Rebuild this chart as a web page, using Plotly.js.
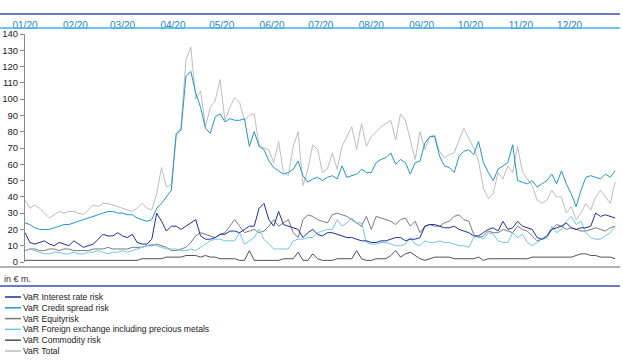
<!DOCTYPE html>
<html><head><meta charset="utf-8">
<script src="https://cdn.plot.ly/plotly-3.0.1.min.js"></script>
<style>html,body{margin:0;padding:0;background:#fff}#chart{width:623px;height:361px}</style>
</head><body><div id="chart"></div>
<script>
// sampling grid: every 3rd calendar day of 2020
const startDate = [2020, 0, 1];
const stepDays = 3;
const seriesNames = ["VaR Interest rate risk","VaR Credit spread risk","VaR Equity risk","VaR Foreign exchange including precious metals","VaR Commodity risk","VaR Total"];
const legendLabels = ["VaR Interest rate risk","VaR Credit spread risk","VaR Equityrisk","VaR Foreign exchange including precious metals","VaR Commodity risk","VaR Total"];
const yTicks = [0,10,20,30,40,50,60,70,80,90,100,110,120,130,140];

const varInterest = [18,12,11,12,13,11,10,12,11,10, 13,11,9,10,11,14,17,16,16,18, 16,15,17,12,11,11,14,30,25,19, 22,22,20,22,24,26,16,14,14,15, 17,17,19,19,18,20,22,22,33,36, 26,22,31,23,22,21,20,15,18,20, 17,16,18,18,17,16,15,15,14,13, 13,12,12,13,13,14,15,15,13,14, 14,15,22,23,23,22,21,21,22,20, 19,18,16,16,18,20,21,19,25,20, 21,25,22,21,20,15,14,16,20,21, 22,24,21,20,21,21,22,30,28,29, 28,27];
const varCredit = [24,23,21,20,20,20,21,22,23,23, 24,25,26,27,28,29,30,31,31,30, 30,29,29,27,26,25,26,33,36,40, 44,79,81,114,117,104,95,82,79,89, 91,86,88,87,87,88,71,80,71,69, 62,58,56,54,55,57,62,53,49,51, 52,50,52,53,51,59,52,53,54,57, 55,55,61,63,64,67,60,63,61,54, 61,62,73,77,77,65,59,58,55,65, 68,69,66,74,61,55,50,57,59,61, 72,50,49,48,50,46,48,50,54,48, 56,48,42,34,44,52,53,52,51,54, 52,56];
const varEquity = [7,8,8,7,7,8,8,7,8,8, 7,7,7,7,8,8,8,9,8,8, 8,8,9,9,9,10,10,11,10,9, 7,7,8,9,12,16,18,17,16,15, 17,18,22,26,22,18,19,20,18,19, 22,26,22,24,26,18,15,26,29,28, 26,25,24,29,30,29,28,26,24,22, 28,20,28,27,26,25,23,26,27,22, 25,18,22,23,22,22,24,25,28,29, 26,25,17,15,16,19,18,18,20,19, 18,22,20,19,16,13,14,15,20,23, 22,20,21,20,19,19,20,21,20,19, 21,22];
const varFx = [7,8,7,6,5,5,6,6,5,5, 6,5,5,6,6,7,6,5,6,6, 7,6,7,8,9,10,11,10,9,8, 8,8,7,7,8,7,9,11,13,14, 14,13,13,13,18,11,13,15,20,14, 11,8,8,8,8,13,14,14,15,15, 18,19,20,20,26,22,24,27,24,24, 12,11,11,12,12,11,10,10,11,15, 11,10,13,12,12,13,12,12,11,10, 10,9,15,16,14,18,17,13,12,12, 18,15,17,12,10,12,14,15,22,18, 20,25,28,23,25,18,15,14,14,16, 18,22];
const varCommodity = [1,1,1,1,1,1,1,1,1,1, 1,1,1,1,1,1,1,1,1,1, 1,1,1,1,2,2,2,2,2,3, 3,3,3,4,4,4,3,4,3,3, 2,2,2,2,1,1,7,1,1,1, 1,1,1,2,2,2,6,1,1,5, 2,1,1,1,2,2,2,2,7,2, 1,1,2,2,2,4,7,3,5,6, 4,2,1,2,3,3,3,3,2,2, 2,2,2,3,1,2,2,2,2,2, 2,2,2,2,3,3,3,3,3,3, 3,3,3,4,5,5,4,4,3,3, 3,2];
const varTotal = [38,33,35,33,30,27,29,31,30,31, 31,30,29,32,35,34,36,36,35,34, 33,32,31,33,36,33,32,42,58,46, 48,77,83,124,132,100,105,83,95,99, 112,87,95,101,98,87,90,91,71,70, 69,61,74,55,53,71,80,47,57,72, 69,55,57,67,57,71,77,83,69,85, 71,77,80,83,85,87,75,91,87,75, 63,80,69,77,78,68,64,66,67,75, 82,76,70,62,45,39,42,55,51,59, 55,71,55,51,47,38,36,38,44,40, 40,30,34,26,30,36,32,40,44,40, 36,49];

const seriesValues = [varInterest, varCredit, varEquity, varFx, varCommodity, varTotal];
const seriesColors = ["#1f2e9c","#1f95d0","#7a7a7a","#72c5ea","#505050","#bdbdbd"];
const drawOrder = [5,1,2,3,4,0];

function pad(n){return (n<10?"0":"")+n;}
const dates = varTotal.map((_, i) => {
  const d = new Date(Date.UTC(startDate[0], startDate[1], startDate[2] + i*stepDays));
  return d.getUTCFullYear()+"-"+pad(d.getUTCMonth()+1)+"-"+pad(d.getUTCDate());
});

const traces = drawOrder.map(k => ({
  type: "scatter", mode: "lines", name: seriesNames[k],
  x: dates, y: seriesValues[k],
  line: {color: seriesColors[k], width: 1},
  hoverinfo: "skip", showlegend: false
}));

// geometry helpers (pixels -> paper)
const W = 623, H = 361, mL = 25, mR = 3, mT = 34, mB = 99;
const pw = W - mL - mR, ph = H - mT - mB;
const px = x => (x - mL) / pw;
const py = y => (H - mB - y) / ph;

const shapes = [
  {type:"line", xref:"paper", yref:"paper", x0:px(0), x1:px(620), y0:py(14), y1:py(14), line:{color:"#3a4cb8", width:1.5}},
  {type:"line", xref:"paper", yref:"paper", x0:px(0), x1:px(620), y0:py(28), y1:py(28), line:{color:"#3fb4e4", width:1.5}},
  {type:"line", xref:"paper", yref:"paper", x0:px(0), x1:px(620), y0:py(267), y1:py(267), line:{color:"#9a9a9a", width:1.5}},
  {type:"line", xref:"paper", yref:"paper", x0:px(0), x1:px(620), y0:py(286), y1:py(286), line:{color:"#3a4cb8", width:1.5}}
];
const annotations = [
  {xref:"paper", yref:"paper", x:px(2), y:py(279), xanchor:"left", yanchor:"middle", text:"in € m.", showarrow:false, font:{size:9, color:"#333"}}
];
const legendY = [297, 307.8, 318.6, 329.4, 340.2, 351];
legendLabels.forEach((lab, k) => {
  shapes.push({type:"line", xref:"paper", yref:"paper", x0:px(5), x1:px(21), y0:py(legendY[k]), y1:py(legendY[k]), line:{color:seriesColors[k], width:1.5}});
  annotations.push({xref:"paper", yref:"paper", x:px(21), y:py(legendY[k]), xanchor:"left", yanchor:"middle", text:lab, showarrow:false, font:{size:8.6, color:"#222"}});
});

const layout = {
  width: W, height: H,
  margin: {l: mL, r: mR, t: mT, b: mB, pad: 0},
  paper_bgcolor: "#fff", plot_bgcolor: "#fff",
  font: {family: "Liberation Sans, Arial, sans-serif", size: 9, color: "#222"},
  showlegend: false,
  xaxis: {
    type: "date", side: "top", range: ["2020-01-01", "2021-01-01"],
    tick0: "2020-01-01", dtick: "M1", tickformat: "%m/%y",
    ticks: "", showgrid: false, zeroline: false, showline: false,
    tickfont: {size: 10, color: "#2a86cf"}, ticklabelstandoff: 2
  },
  yaxis: {
    range: [0, 140], tickvals: yTicks, ticktext: yTicks.map(String),
    ticks: "outside", ticklen: 4, tickcolor: "#8a8a8a",
    showline: true, linecolor: "#8a8a8a", linewidth: 1,
    showgrid: false, zeroline: false,
    tickfont: {size: 9.5, color: "#222"}
  },
  shapes, annotations
};

Plotly.newPlot("chart", traces, layout, {staticPlot: true, displayModeBar: false});
</script></body></html>
